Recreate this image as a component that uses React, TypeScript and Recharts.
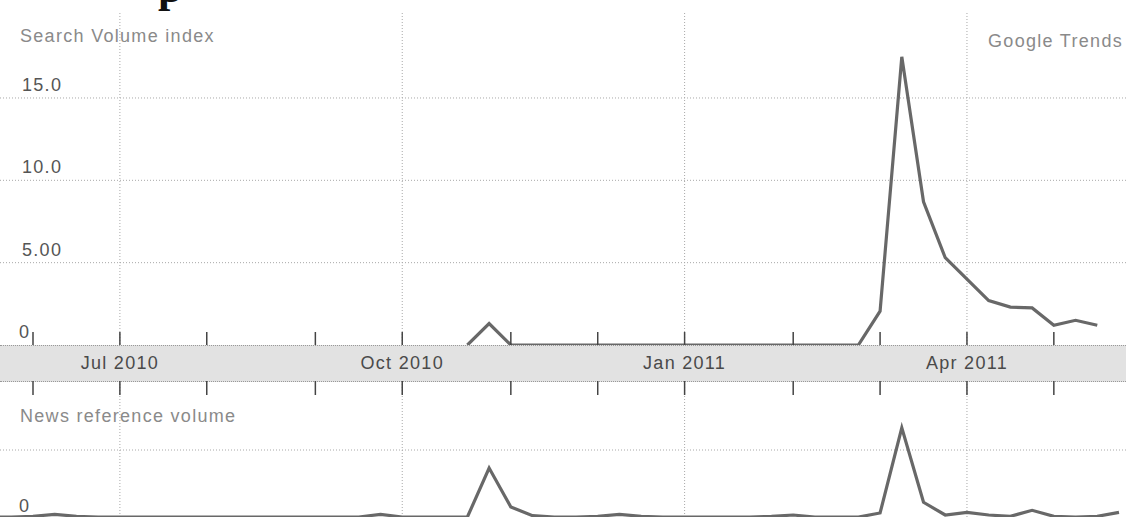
import React from 'react';
import { LineChart, Line, XAxis, YAxis, CartesianGrid, ReferenceLine } from 'recharts';

// week index 0 = first week of Jun 2010, one step per week
const weeks = [
  -2, -1, 0, 1, 2, 3, 4, 5, 6, 7, 8, 9, 10, 11, 12, 13, 14, 15, 16, 17, 18, 19, 20, 21, 22, 23, 24,
  25, 26, 27, 28, 29, 30, 31, 32, 33, 34, 35, 36, 37, 38, 39, 40, 41, 42, 43, 44, 45, 46, 47, 48, 49, 50,
];

const searchVolume: (number | null)[] = [
  null, null, null, null, null, null, null, null, null, null, null, null, null, null, null, null, null,
  null, null, null, null, null,
  0, 1.3, 0, 0, 0, 0, 0, 0, 0, 0, 0, 0, 0, 0, 0, 0, 0, 0, 0,
  2.05, 17.5, 8.7, 5.3, 4.0, 2.7, 2.3, 2.25, 1.2, 1.5, 1.2,
  null,
];

const newsVolume = [
  0, 0, 0.01, 0.04, 0.01, 0, 0, 0, 0, 0, 0, 0, 0, 0, 0, 0, 0, 0, 0.04, 0, 0, 0,
  0, 0.73, 0.15, 0.02, 0, 0, 0.01, 0.04, 0.01, 0, 0, 0, 0, 0, 0.01, 0.03, 0, 0, 0,
  0.06, 1.33, 0.22, 0.03, 0.07, 0.03, 0.01, 0.1, 0.01, 0, 0.01, 0.07,
];

const quarterWeeks = [4, 17, 30, 43];
const quarterLabels = ['Jul 2010', 'Oct 2010', 'Jan 2011', 'Apr 2011'];
const monthWeeks = [0, 4, 8, 13, 17, 22, 26, 30, 35, 39, 43, 47];

const searchTicks = [0, 5, 10, 15];
const searchTickLabels = ['0', '5.00', '10.0', '15.0'];
const searchGrid = [5, 10, 15];
const newsTicks = [0, 1];
const newsTickLabels = ['0', ''];
const newsGrid = [1];

const rows = weeks.map((week, k) => ({
  week,
  search: searchVolume[k],
  news: newsVolume[k],
}));

const X_DOMAIN: [number, number] = [-1.5193, 50.3223];
const FONT = '"Liberation Sans", Arial, sans-serif';
const GRID = '#a8a8a8';
const LINE = '#686868';

const QuarterTick = (props: any) => {
  const { x, y, payload } = props;
  const i = quarterWeeks.indexOf(payload.value);
  return (
    <text x={x} y={y + 16} textAnchor="middle" fill="#4a4a4a" fontSize={18} letterSpacing={1.3} fontFamily={FONT}>
      {quarterLabels[i]}
    </text>
  );
};

const SearchTick = (props: any) => {
  const { y, payload } = props;
  const i = searchTicks.indexOf(payload.value);
  return (
    <text x={i === 0 ? 19 : 22} y={y - 7} fill="#555" fontSize={18} letterSpacing={1.3} fontFamily={FONT}>
      {searchTickLabels[i]}
    </text>
  );
};

const NewsTick = (props: any) => {
  const { y, payload } = props;
  const i = newsTicks.indexOf(payload.value);
  return (
    <text x={19} y={y - 5} fill="#555" fontSize={18} letterSpacing={1.3} fontFamily={FONT}>
      {newsTickLabels[i]}
    </text>
  );
};

const NoLabel = () => <g />;

export default function App() {
  return (
    <div style={{ position: 'absolute', left: 0, top: 0, width: 1126, height: 519, background: '#fff', overflow: 'hidden' }}>
      {/* axis band */}
      <div
        style={{
          position: 'absolute', left: 0, top: 345, width: 1126, height: 35,
          background: '#e2e2e2', borderTop: '1px dotted #999', borderBottom: '1px dotted #999',
        }}
      />

      <div style={{ position: 'absolute', left: 0, top: 0 }}>
        <LineChart width={1126} height={381} data={rows} margin={{ top: 13, right: 0, bottom: 0, left: 0 }}>
          <CartesianGrid xAxisId="lbl" horizontal={false} syncWithTicks stroke={GRID} strokeDasharray="1 2" />
          <XAxis
            xAxisId="lbl" dataKey="week" type="number" domain={X_DOMAIN} allowDataOverflow
            ticks={quarterWeeks} interval={0} height={36} axisLine={false} tickLine={false} tick={<QuarterTick />}
          />
          <XAxis
            xAxisId="mon" dataKey="week" type="number" domain={X_DOMAIN} allowDataOverflow
            ticks={monthWeeks} interval={0} mirror tick={<NoLabel />} tickSize={13} axisLine={false}
            tickLine={{ stroke: '#444', strokeWidth: 1.5 }}
          />
          <YAxis
            domain={[0, 20.16]} allowDataOverflow ticks={searchTicks} interval={0} mirror width={60}
            axisLine={false} tickLine={false} tick={<SearchTick />}
          />
          {searchGrid.map((v) => (
            <ReferenceLine key={v} xAxisId="lbl" y={v} stroke={GRID} strokeDasharray="1 2" />
          ))}
          <Line
            xAxisId="lbl" dataKey="search" stroke={LINE} strokeWidth={3.2} dot={false}
            activeDot={false} isAnimationActive={false} connectNulls={false}
          />
        </LineChart>
      </div>

      <div style={{ position: 'absolute', left: 0, top: 381 }}>
        <LineChart width={1126} height={138} data={rows} margin={{ top: 0, right: 0, bottom: 2, left: 0 }}>
          <CartesianGrid xAxisId="grid" horizontal={false} syncWithTicks stroke={GRID} strokeDasharray="1 2" />
          <XAxis
            xAxisId="grid" dataKey="week" type="number" domain={X_DOMAIN} allowDataOverflow
            ticks={quarterWeeks} interval={0} hide
          />
          <XAxis
            xAxisId="mon" dataKey="week" type="number" domain={X_DOMAIN} allowDataOverflow orientation="top"
            ticks={monthWeeks} interval={0} mirror tick={<NoLabel />} tickSize={14} axisLine={false}
            tickLine={{ stroke: '#444', strokeWidth: 1.5 }}
          />
          <YAxis
            domain={[0, 2.03]} allowDataOverflow ticks={newsTicks} interval={0} mirror width={60}
            axisLine={false} tickLine={false} tick={<NewsTick />}
          />
          {newsGrid.map((v) => (
            <ReferenceLine key={v} xAxisId="grid" y={v} stroke={GRID} strokeDasharray="1 2" />
          ))}
          <Line
            xAxisId="grid" dataKey="news" stroke={LINE} strokeWidth={3.2} dot={false}
            activeDot={false} isAnimationActive={false}
          />
        </LineChart>
      </div>

      <svg width={1126} height={519} style={{ position: 'absolute', left: 0, top: 0, pointerEvents: 'none' }}>
        <text x={158} y={2} fontFamily='"Liberation Serif", serif' fontWeight="bold" fontSize={44} fill="#111">p</text>
        <text x={20} y={42} fill="#8a8a8a" fontSize={18} letterSpacing={1.3} fontFamily={FONT}>Search Volume index</text>
        <text x={1123} y={47} textAnchor="end" fill="#8a8a8a" fontSize={18} letterSpacing={1.3} fontFamily={FONT}>Google Trends</text>
        <text x={20} y={422} fill="#8a8a8a" fontSize={18} letterSpacing={1.3} fontFamily={FONT}>News reference volume</text>
      </svg>
    </div>
  );
}
